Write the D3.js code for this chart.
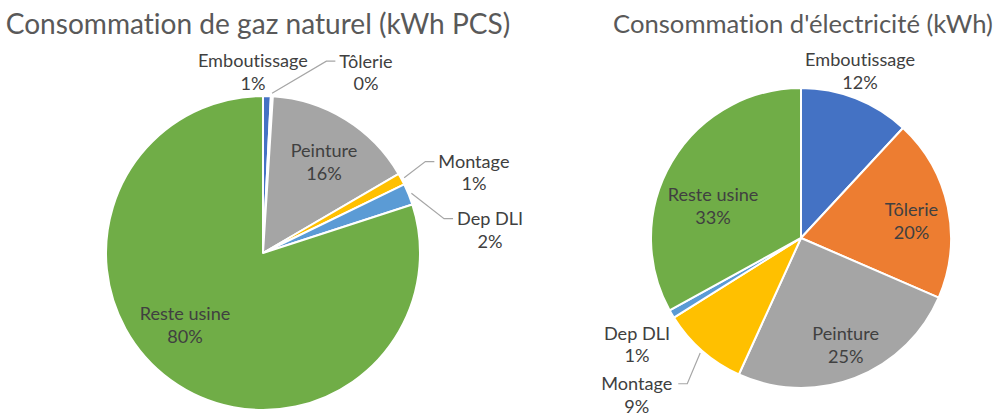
<!DOCTYPE html>
<html lang="fr">
<head>
<meta charset="utf-8">
<script src="https://cdn.jsdelivr.net/npm/d3@7"></script>
<style>
  html, body { margin: 0; padding: 0; background: #fff; }
  svg { display: block; }
  text { font-variant-ligatures: none; font-feature-settings: "liga" 0, "clig" 0; }
</style>
</head>
<body>
<svg id="chart" width="1008" height="418"></svg>
<script>
// ---- Data -------------------------------------------------------------
const categories = ["Emboutissage", "Tôlerie", "Peinture", "Montage", "Dep DLI", "Reste usine"];
const gasShares  = [0.8, 0.2, 15.6, 1.2, 2.2, 80.0];    // gaz naturel, % of kWh PCS
const elecShares = [11.9, 19.6, 25.3, 9.3, 0.9, 33.0];  // électricité, % of kWh
const titles = ["Consommation de gaz naturel (kWh PCS)", "Consommation d'électricité (kWh)"];

// ---- Styling ----------------------------------------------------------
const palette = ["#4472C4", "#ED7D31", "#A5A5A5", "#FFC000", "#5B9BD5", "#70AD47"];
const FONT = "Lato, 'Open Sans', sans-serif";
const titleColor = "#595959";
const labelColor = "#404040";
const leaderColor = "#A6A6A6";

// Label placement around each pie: polar angle (deg, clockwise from 12 o'clock),
// distance as a multiple of the radius, and whether a leader line is drawn.
const gasLabelLayout = [
  { angle: -3.2,  dist: 1.155, leader: false },
  { angle: 29.7,  dist: 1.324, leader: true },
  { angle: 33.8,  dist: 0.698, leader: false },
  { angle: 69.2,  dist: 1.437, leader: true },
  { angle: 84.2,  dist: 1.454, leader: true },
  { angle: 227.3, dist: 0.676, leader: false }
];
const elecLabelLayout = [
  { angle: 19.5,  dist: 1.18,  leader: false },
  { angle: 81.3,  dist: 0.745, leader: false },
  { angle: 157.4, dist: 0.775, leader: false },
  { angle: 226.3, dist: 1.515, leader: true },
  { angle: 236.9, dist: 1.305, leader: false },
  { angle: 290.0, dist: 0.624, leader: false }
];

const panels = [
  { title: titles[0], values: gasShares,  layout: gasLabelLayout,
    cx: 263, cy: 253, r: 157, titleX: 258, titleY: 34, titleWidth: 505 },
  { title: titles[1], values: elecShares, layout: elecLabelLayout,
    cx: 801, cy: 238, r: 150, titleX: 803, titleY: 33, titleWidth: 380 }
];

const svg = d3.select("#chart");
const pct = d3.format(".0%");

// Font size that makes a string span a given width
function fitSize(text, width) {
  const probe = svg.append("text").attr("font-family", FONT).attr("font-size", 100).text(text);
  const w = probe.node().getComputedTextLength();
  probe.remove();
  return 100 * width / w;
}

const labelSize = fitSize("Emboutissage", 110);
const lineGap = 22.5;

panels.forEach(p => {
  const g = svg.append("g");

  // Title
  g.append("text")
    .attr("x", p.titleX)
    .attr("y", p.titleY)
    .attr("text-anchor", "middle")
    .attr("font-family", FONT)
    .attr("font-size", fitSize(p.title, p.titleWidth))
    .attr("fill", titleColor)
    .text(p.title);

  const total = d3.sum(p.values);
  const pie = d3.pie().sort(null).value(d => d)(p.values);
  const arc = d3.arc().innerRadius(0).outerRadius(p.r);

  const pieG = g.append("g").attr("transform", `translate(${p.cx},${p.cy})`);

  // Slices
  pieG.selectAll("path.slice")
    .data(pie)
    .join("path")
    .attr("class", "slice")
    .attr("d", arc)
    .attr("fill", (d, i) => palette[i])
    .attr("stroke", "#fff")
    .attr("stroke-width", 2)
    .attr("stroke-linejoin", "round");

  // Labels: category name on the first line, share on the second
  pie.forEach((d, i) => {
    const lay = p.layout[i];
    const a = lay.angle * Math.PI / 180;
    const lx = Math.sin(a) * lay.dist * p.r;
    const ly = -Math.cos(a) * lay.dist * p.r;
    const line1Mid = ly - lineGap / 2;

    const t = pieG.append("text")
      .attr("text-anchor", "middle")
      .attr("font-family", FONT)
      .attr("font-size", labelSize)
      .attr("fill", labelColor);
    t.append("tspan").attr("x", lx).attr("y", line1Mid + 0.35 * labelSize).text(categories[i]);
    t.append("tspan").attr("x", lx).attr("y", line1Mid + lineGap + 0.35 * labelSize)
      .text(pct(d.value / total));

    if (lay.leader) {
      const box = t.node().getBBox();
      const mid = (d.startAngle + d.endAngle) / 2;
      const sx = Math.sin(mid) * (p.r + 3);
      const sy = -Math.cos(mid) * (p.r + 3);
      const rightSide = lx > sx;
      const ex = rightSide ? box.x - 4 : box.x + box.width + 6;
      const elbowX = rightSide ? ex - 9 : ex + 9;
      pieG.insert("path", "text")
        .attr("d", d3.line()([[sx, sy], [elbowX, line1Mid], [ex, line1Mid]]))
        .attr("fill", "none")
        .attr("stroke", leaderColor)
        .attr("stroke-width", 1.2);
    }
  });
});
</script>
</body>
</html>
